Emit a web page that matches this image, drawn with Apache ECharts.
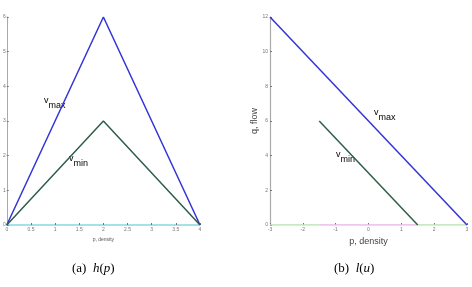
<!DOCTYPE html>
<html>
<head>
<meta charset="utf-8">
<script src="https://cdn.jsdelivr.net/npm/echarts@6/dist/echarts.min.js"></script>
<style>
  html, body { margin: 0; padding: 0; background: #fff; }
  #chart { width: 472px; height: 287px; }
</style>
</head>
<body>
<div id="chart"></div>
<script>
// (a) h(p)
var hVmax = [[0, 0], [2, 6], [4, 0]];
var hVmin = [[0, 0], [2, 3], [4, 0]];
var hXTicks = [0, 0.5, 1, 1.5, 2, 2.5, 3, 3.5, 4];
var hYTicks = [0, 1, 2, 3, 4, 5, 6];

// (b) l(u)
var lVmax = [[-3, 12], [3, 0]];
var lVmin = [[-1.5, 6], [1.5, 0]];
var lAxisGreenA = [[-3, 0], [-1.5, 0]];
var lAxisPink = [[-1.5, 0], [1.5, 0]];
var lAxisGreenB = [[1.5, 0], [3, 0]];
var lXTicks = [-3, -2, -1, 0, 1, 2, 3];
var lYTicks = [0, 2, 4, 6, 8, 10, 12];

var chart = echarts.init(document.getElementById('chart'));

var tickLabel = { fontSize: 5, color: '#777', margin: 2 };
var sub = {
    v: { fontSize: 9, color: '#333', fontFamily: 'Liberation Sans', verticalAlign: 'top', lineHeight: 14 },
    s: { fontSize: 9, color: '#333', fontFamily: 'Liberation Sans', verticalAlign: 'bottom', lineHeight: 14 }
};

var option = {
    animation: false,
    grid: [
        { left: 3, top: 17, width: 197, height: 208 },
        { left: 270, top: 17, width: 197, height: 208 }
    ],
    xAxis: [
        {
            gridIndex: 0, type: 'value', min: 0, max: 4, interval: 0.5,
            name: 'p, density', nameLocation: 'middle', nameGap: 8,
            nameTextStyle: { fontSize: 5, color: '#555' },
            axisLine: { lineStyle: { color: '#86d9e3', width: 1.5 } },
            axisTick: { inside: true, length: 2, lineStyle: { color: '#777' } },
            axisLabel: tickLabel,
            splitLine: { show: false }
        },
        {
            gridIndex: 1, type: 'value', min: -3, max: 3, interval: 1,
            name: 'p, density', nameLocation: 'middle', nameGap: 11,
            nameTextStyle: { fontSize: 9, color: '#444', fontFamily: 'Liberation Sans' },
            axisLine: { show: false },
            axisTick: { inside: true, length: 2, lineStyle: { color: '#777' } },
            axisLabel: tickLabel,
            splitLine: { show: false }
        }
    ],
    yAxis: [
        {
            gridIndex: 0, type: 'value', min: 0, max: 6, interval: 1,
            axisLine: { show: true, onZero: false, lineStyle: { color: '#aaa' } },
            axisTick: { show: true, inside: true, length: 2, lineStyle: { color: '#777' } },
            axisLabel: { fontSize: 5, color: '#777', margin: 1 },
            splitLine: { show: false }
        },
        {
            gridIndex: 1, type: 'value', min: 0, max: 12, interval: 2,
            name: 'q, flow', nameLocation: 'middle', nameGap: 10,
            nameTextStyle: { fontSize: 9, color: '#444', fontFamily: 'Liberation Sans' },
            axisLine: { show: true, onZero: false, lineStyle: { color: '#aaa', width: 1.2 } },
            axisTick: { show: true, inside: true, length: 2, lineStyle: { color: '#777' } },
            axisLabel: { fontSize: 5, color: '#777', margin: 2 },
            splitLine: { show: false }
        }
    ],
    series: [
        { type: 'line', xAxisIndex: 1, yAxisIndex: 1, data: lAxisGreenA, symbol: 'none', lineStyle: { color: '#b5e3b0', width: 1.5 }, z: 1 },
        { type: 'line', xAxisIndex: 1, yAxisIndex: 1, data: lAxisPink, symbol: 'none', lineStyle: { color: '#eab3ee', width: 1.5 }, z: 1 },
        { type: 'line', xAxisIndex: 1, yAxisIndex: 1, data: lAxisGreenB, symbol: 'none', lineStyle: { color: '#b5e3b0', width: 1.5 }, z: 1 },
        { type: 'line', xAxisIndex: 0, yAxisIndex: 0, data: hVmax, symbol: 'none', lineStyle: { color: '#3434d8', width: 1.5 } },
        { type: 'line', xAxisIndex: 0, yAxisIndex: 0, data: hVmin, symbol: 'none', lineStyle: { color: '#2e5e48', width: 1.5 } },
        { type: 'line', xAxisIndex: 1, yAxisIndex: 1, data: lVmax, symbol: 'none', lineStyle: { color: '#3434d8', width: 1.5 } },
        { type: 'line', xAxisIndex: 1, yAxisIndex: 1, data: lVmin, symbol: 'none', lineStyle: { color: '#2e5e48', width: 1.5 } }
    ],
    graphic: [
        { type: 'text', left: 44, top: 96, style: { rich: sub, text: '{v|v}{s|max}' } },
        { type: 'text', left: 69, top: 154, style: { rich: sub, text: '{v|v}{s|min}' } },
        { type: 'text', left: 374, top: 108, style: { rich: sub, text: '{v|v}{s|max}' } },
        { type: 'text', left: 336, top: 150, style: { rich: sub, text: '{v|v}{s|min}' } },
        {
            type: 'text', left: 72, top: 262,
            style: {
                rich: {
                    r: { fontSize: 13, fontFamily: 'Liberation Serif', color: '#222' },
                    i: { fontSize: 13, fontFamily: 'Liberation Serif', fontStyle: 'italic', color: '#222' }
                },
                text: '{r|(a)  }{i|h}{r|(}{i|p}{r|)}'
            }
        },
        {
            type: 'text', left: 334, top: 262,
            style: {
                rich: {
                    r: { fontSize: 13, fontFamily: 'Liberation Serif', color: '#222' },
                    i: { fontSize: 13, fontFamily: 'Liberation Serif', fontStyle: 'italic', color: '#222' }
                },
                text: '{r|(b)  }{i|l}{r|(}{i|u}{r|)}'
            }
        }
    ]
};

option && chart.setOption(option);
</script>
</body>
</html>
